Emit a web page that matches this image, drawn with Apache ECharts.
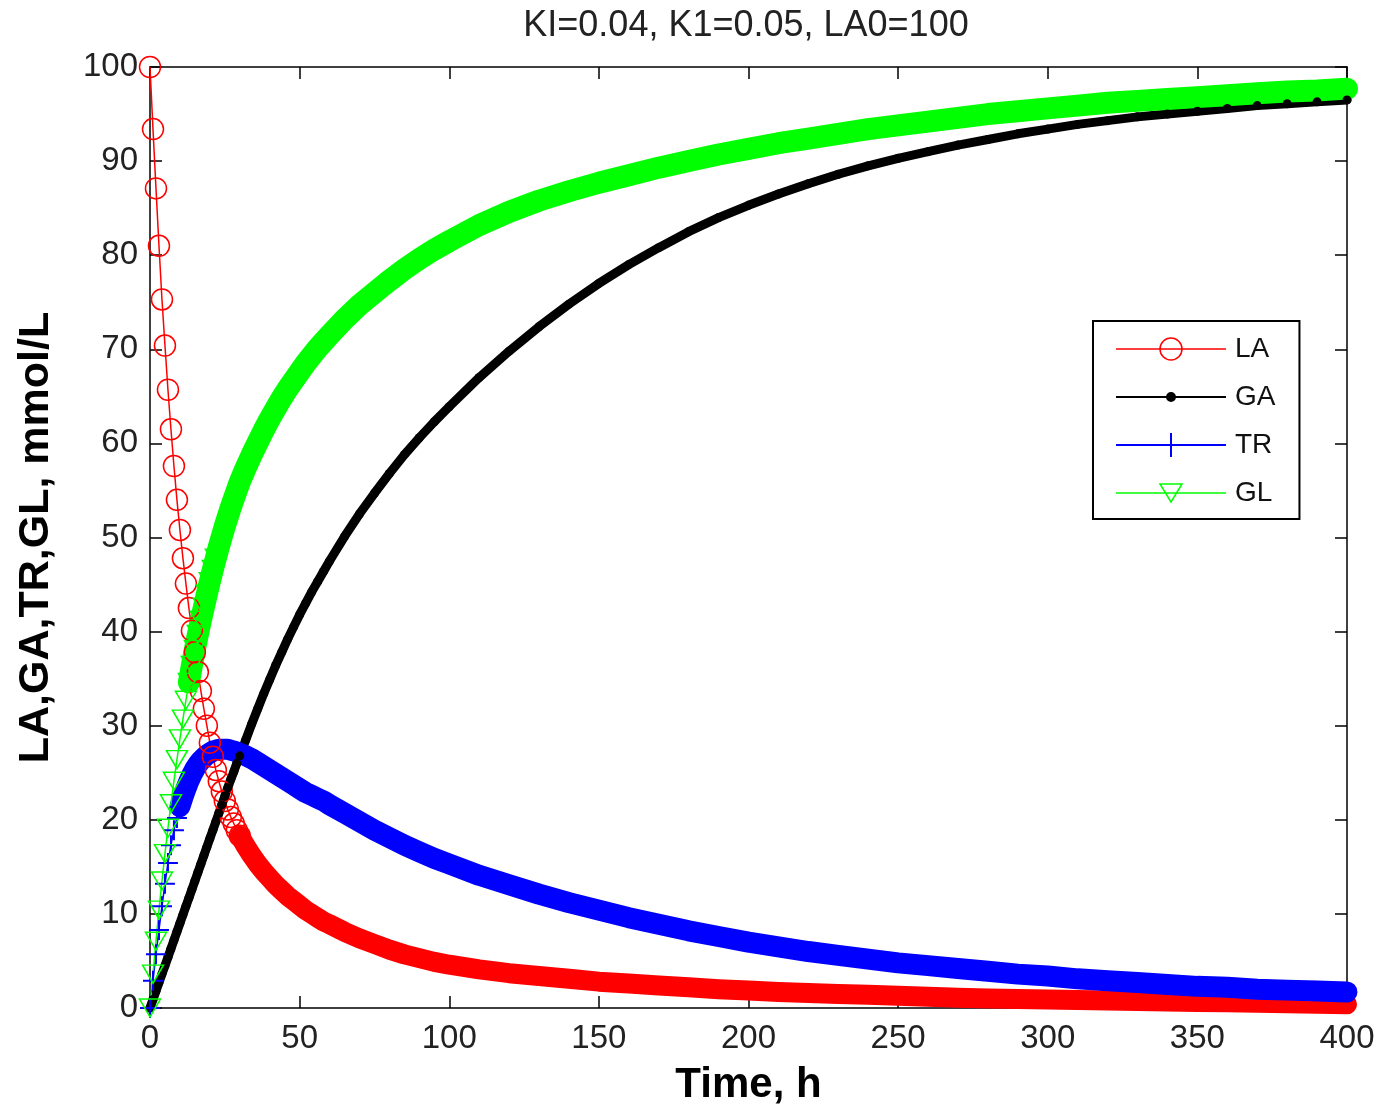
<!DOCTYPE html>
<html>
<head>
<meta charset="utf-8">
<script src="https://cdn.jsdelivr.net/npm/echarts/dist/echarts.min.js"></script>
<style>html,body{margin:0;padding:0;background:#fff}#c{width:1378px;height:1113px}</style>
</head>
<body>
<div id="c"></div>
<script>
const titleText = 'KI=0.04, K1=0.05, LA0=100';
const xName = 'Time, h';
const yName = 'LA,GA,TR,GL, mmol/L';
const seriesNames = ['LA', 'GA', 'TR', 'GL'];

const time = [0,1,2,3,4,5,6,7,8,9,10,11,12,13,14,15,16,17,18,19,20,21,22,23,24,25,26,27,28,29,30,
  32,34,36,38,40,42,44,46,48,50,52,54,56,58,60,
  65,70,75,80,85,90,95,100,
  110,120,130,140,150,160,170,180,190,200,210,220,230,240,250,260,270,280,290,300,310,320,330,340,350,360,370,380,390,400];

const la = [100,93.4,87.1,81.0,75.3,70.4,65.7,61.5,57.6,54.0,50.8,47.8,45.1,42.5,40.1,37.8,35.7,33.7,31.8,30.0,28.2,26.7,25.3,24.1,23.0,22.0,21.1,20.3,19.6,18.9,18.3,
  17.2,16.2,15.3,14.5,13.8,13.1,12.5,11.9,11.4,10.9,10.4,10.0,9.6,9.2,8.9,
  8.1,7.4,6.8,6.2,5.7,5.3,4.9,4.6,
  4.1,3.7,3.4,3.1,2.8,2.6,2.4,2.2,2.0,1.85,1.7,1.6,1.5,1.4,1.3,1.2,1.1,1.0,0.95,0.9,0.85,0.8,0.75,0.7,0.65,0.6,0.55,0.5,0.45,0.4];

const ga = [0,0.9,1.8,2.7,3.6,4.5,5.4,6.3,7.2,8.1,9.0,9.9,10.8,11.7,12.6,13.5,14.4,15.3,16.2,17.1,18.0,18.9,19.8,20.7,21.6,22.5,23.4,24.3,25.1,26.0,26.8,
  28.5,30.2,31.8,33.4,34.9,36.4,37.8,39.2,40.5,41.8,43.0,44.2,45.3,46.4,47.5,
  50.1,52.5,54.7,56.8,58.8,60.6,62.3,63.9,
  67.0,69.8,72.4,74.8,77.0,79.0,80.8,82.5,84.0,85.3,86.5,87.6,88.6,89.5,90.3,91.0,91.7,92.3,92.9,93.4,93.9,94.3,94.7,95.0,95.3,95.6,95.9,96.1,96.3,96.5];

const tr = [0,2.9,5.7,8.3,10.8,13.2,15.4,17.3,18.9,20.2,21.4,22.4,23.3,24.1,24.8,25.4,25.9,26.3,26.6,26.9,27.1,27.3,27.4,27.5,27.5,27.5,27.5,27.4,27.3,27.2,27.1,
  26.8,26.5,26.1,25.7,25.3,24.9,24.5,24.1,23.7,23.3,22.9,22.6,22.3,22.0,21.6,
  20.7,19.8,18.9,18.1,17.3,16.6,15.9,15.3,
  14.1,13.1,12.1,11.2,10.4,9.6,8.9,8.2,7.6,7.0,6.5,6.0,5.6,5.2,4.8,4.5,4.2,3.9,3.6,3.4,3.1,2.9,2.7,2.5,2.3,2.2,2.0,1.9,1.8,1.7];

const gl = [0,3.6,7.1,10.4,13.5,16.4,19.1,21.7,24.1,26.4,28.6,30.7,32.7,34.6,36.4,38.1,39.7,41.2,42.6,44.0,45.3,46.6,47.8,49.0,50.1,51.2,52.2,53.2,54.1,55.0,55.9,
  57.4,58.8,60.1,61.4,62.6,63.7,64.8,65.8,66.7,67.6,68.5,69.3,70.1,70.8,71.5,
  73.2,74.7,76.0,77.3,78.5,79.6,80.6,81.5,
  83.2,84.6,85.8,86.8,87.7,88.5,89.3,90.0,90.7,91.3,91.9,92.4,92.9,93.4,93.8,94.2,94.6,95.0,95.3,95.6,95.9,96.2,96.4,96.6,96.8,97.0,97.2,97.4,97.5,97.7];

const RED = '#ff0000', BLACK = '#000000', BLUE = '#0000ff', GREEN = '#00ff00';
const FONT = '"Liberation Sans", Arial, Helvetica, sans-serif';

function seg(vals, t0, t1) {
  const out = [];
  for (let i = 0; i < time.length; i++) {
    if (time[i] >= t0 && time[i] <= t1) out.push([time[i], vals[i]]);
  }
  return out;
}

const PLUS = 'path://M0,10L20,10M10,0L10,20';
const TRI = 'path://M0,0L20,0L10,17Z';

const axisCommon = {
  type: 'value',
  axisLine: { show: true, onZero: false, lineStyle: { color: '#000', width: 1.5 } },
  axisTick: { show: true, inside: true, length: 12, lineStyle: { color: '#000', width: 1.5 } },
  splitLine: { show: false }
};

const chart = echarts.init(document.getElementById('c'), null, { renderer: 'canvas' });
chart.setOption({
  backgroundColor: '#ffffff',
  animation: false,
  title: {
    text: titleText,
    left: 741, top: 3, textAlign: 'center',
    textStyle: { fontFamily: FONT, fontSize: 36, fontWeight: 'normal', color: '#222' }
  },
  grid: { left: 150, right: 31, top: 67, bottom: 105, containLabel: false, outerBoundsMode: 'none' },
  legend: {
    orient: 'vertical', left: 1093, top: 321,
    padding: [14, 24, 12, 22],
    itemWidth: 110, itemHeight: 24, itemGap: 20,
    borderColor: '#000', borderWidth: 2, backgroundColor: '#fff',
    textStyle: { fontFamily: FONT, fontSize: 28, color: '#111', padding: [0, 0, 0, 4] },
    selectedMode: false,
    data: [
      { name: 'LA', icon: 'path://M0,0M110,24M0,12L110,12M66,12A11,11,0,1,1,44,12A11,11,0,1,1,66,12Z',
        itemStyle: { color: 'rgba(0,0,0,0)', borderColor: RED, borderWidth: 1.5 } },
      { name: 'GA', icon: 'path://M0,0M110,24M0,12L110,12M59,12A4,4,0,1,1,51,12A4,4,0,1,1,59,12Z',
        itemStyle: { color: BLACK, borderColor: BLACK, borderWidth: 2 } },
      { name: 'TR', icon: 'path://M0,0M110,24M0,12L110,12M55,0L55,24',
        itemStyle: { color: 'rgba(0,0,0,0)', borderColor: BLUE, borderWidth: 2 } },
      { name: 'GL', icon: 'path://M0,0M110,24M0,12L110,12M44,3L66,3L55,21Z',
        itemStyle: { color: 'rgba(0,0,0,0)', borderColor: GREEN, borderWidth: 1.5 } }
    ]
  },
  xAxis: [
    Object.assign({}, axisCommon, {
      position: 'bottom', min: 0, max: 400, interval: 50,
      name: xName, nameLocation: 'middle', nameGap: 56,
      nameTextStyle: { fontFamily: FONT, fontSize: 42, fontWeight: 'bold', color: '#000' },
      axisLabel: { show: true, margin: 14, fontFamily: FONT, fontSize: 33, color: '#222' }
    }),
    Object.assign({}, axisCommon, {
      position: 'top', min: 0, max: 400, interval: 50,
      axisLabel: { show: false }
    })
  ],
  yAxis: [
    Object.assign({}, axisCommon, {
      position: 'left', min: 0, max: 100, interval: 10,
      name: yName, nameLocation: 'middle', nameGap: 92, nameRotate: 90,
      nameTextStyle: { fontFamily: FONT, fontSize: 43, fontWeight: 'bold', color: '#000' },
      axisLabel: { show: true, margin: 12, fontFamily: FONT, fontSize: 33, color: '#222' }
    }),
    Object.assign({}, axisCommon, {
      position: 'right', min: 0, max: 100, interval: 10,
      axisLabel: { show: false }
    })
  ],
  series: [
    { name: 'LA', type: 'line', data: seg(la, 0, 30), clip: false, silent: true,
      symbol: 'circle', symbolSize: 21, showSymbol: true,
      itemStyle: { color: 'rgba(0,0,0,0)', borderColor: RED, borderWidth: 1.5 },
      lineStyle: { color: RED, width: 1.5 } },
    { name: 'LA band', type: 'line', data: seg(la, 30, 400), clip: false, silent: true,
      symbol: 'none', showSymbol: false,
      lineStyle: { color: RED, width: 20, cap: 'round', join: 'round' } },
    { name: 'GA', type: 'line', data: seg(ga, 0, 400), clip: false, silent: true,
      symbol: 'circle', symbolSize: 9, showSymbol: true,
      itemStyle: { color: BLACK },
      lineStyle: { color: BLACK, width: 9, cap: 'round', join: 'round' } },
    { name: 'TR', type: 'line', data: seg(tr, 0, 16), clip: false, silent: true,
      symbol: PLUS, symbolSize: 20, showSymbol: true,
      itemStyle: { color: 'rgba(0,0,0,0)', borderColor: BLUE, borderWidth: 2 },
      lineStyle: { color: BLUE, width: 1.5 } },
    { name: 'TR band', type: 'line', data: seg(tr, 10, 400), clip: false, silent: true,
      symbol: 'none', showSymbol: false,
      lineStyle: { color: BLUE, width: 21, cap: 'round', join: 'round' } },
    { name: 'GL', type: 'line', data: seg(gl, 0, 22), clip: false, silent: true,
      symbol: TRI, symbolSize: [21, 18], showSymbol: true,
      itemStyle: { color: 'rgba(0,0,0,0)', borderColor: GREEN, borderWidth: 1.5 },
      lineStyle: { color: GREEN, width: 1.5 } },
    { name: 'GL band', type: 'line', data: seg(gl, 13, 400), clip: false, silent: true,
      symbol: 'none', showSymbol: false,
      lineStyle: { color: GREEN, width: 22, cap: 'round', join: 'round' } }
  ]
});
</script>
</body>
</html>
